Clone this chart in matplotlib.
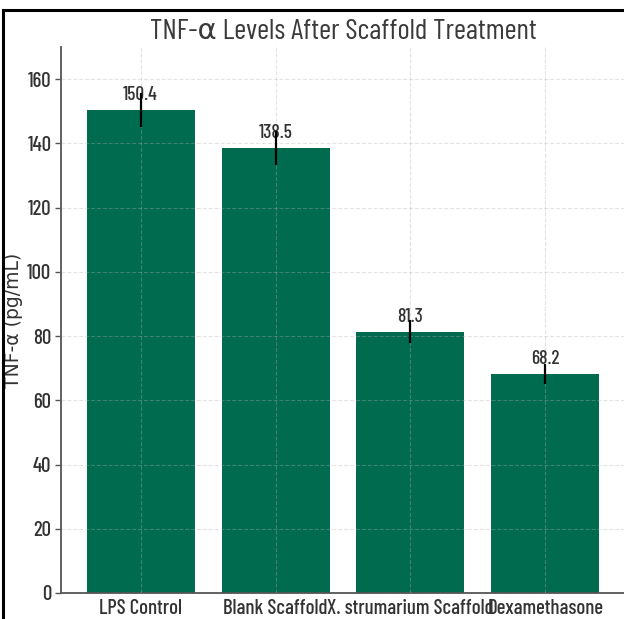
import matplotlib
matplotlib.use("Agg")
import matplotlib.pyplot as plt
from matplotlib.lines import Line2D

# TNF-α concentrations (pg/mL) per treatment group
groups = ["LPS Control", "Blank Scaffold", "X. strumarium Scaffold", "Dexamethasone"]
tnf_mean = [150.4, 138.5, 81.3, 68.2]
tnf_err = [5.4, 5.3, 3.6, 3.0]
y_ticks = [0, 20, 40, 60, 80, 100, 120, 140, 160]

BAR_COLOR = "#006B4F"
TEXT_COLOR = "#333333"
NARROW = ["Barlow Condensed", "DejaVu Sans"]

W, H = 624, 619
fig = plt.figure(figsize=(W / 100, H / 100), dpi=100)
fig.patch.set_facecolor("white")

# axes placed in pixel terms
left, right, bottom, top = 61, 625, 593, 47
ax = fig.add_axes([left / W, (H - bottom) / H, (right - left) / W, (bottom - top) / H])

x = list(range(len(groups)))
ax.bar(x, tnf_mean, width=0.8, color=BAR_COLOR, zorder=1)
ax.errorbar(x, tnf_mean, yerr=tnf_err, fmt="none", ecolor="black",
            elinewidth=1.6, capsize=0, zorder=4)

for xi, v in zip(x, tnf_mean):
    ax.text(xi, v + 3.2, f"{v}", ha="center", va="baseline",
            family=NARROW, fontsize=14, fontweight="medium", color=TEXT_COLOR, zorder=3)

ax.set_xlim(-0.59, 3.59)
ax.set_ylim(0, 170)
ax.set_yticks(y_ticks)
ax.set_xticks(x)
ax.set_xticklabels(groups)

ax.grid(True, color="#b0b0b0", linestyle="--", linewidth=0.8, alpha=0.35, zorder=2)
ax.set_axisbelow(False)

for lbl in ax.get_xticklabels() + ax.get_yticklabels():
    lbl.set_family(NARROW)
    lbl.set_fontsize(15)
    lbl.set_fontweight("medium")
    lbl.set_color(TEXT_COLOR)

ax.tick_params(axis="x", length=0, pad=4)
ax.tick_params(axis="y", length=4, width=1, color="#555555", pad=3)

for side in ("top", "right"):
    ax.spines[side].set_visible(False)
for side in ("left", "bottom"):
    ax.spines[side].set_color("#555555")
    ax.spines[side].set_linewidth(1.3)

ax.set_ylabel("TNF-α (pg/mL)", family=["DejaVu Sans"], fontsize=13.5,
              color=TEXT_COLOR)
ax.yaxis.set_label_coords(-0.068, 0.5)

ax.set_title("TNF-α Levels After Scaffold Treatment", family=NARROW,
             fontsize=21, color="#3a3a3a", pad=6)

# dark frame along the top and left edges of the figure
fig.add_artist(Line2D([3 / W, 1], [1 - 10 / H, 1 - 10 / H], transform=fig.transFigure,
                      color="black", linewidth=2.2))
fig.add_artist(Line2D([3 / W, 3 / W], [0, 1 - 10 / H], transform=fig.transFigure,
                      color="black", linewidth=2.2))

fig.savefig("out.png", dpi=100)
